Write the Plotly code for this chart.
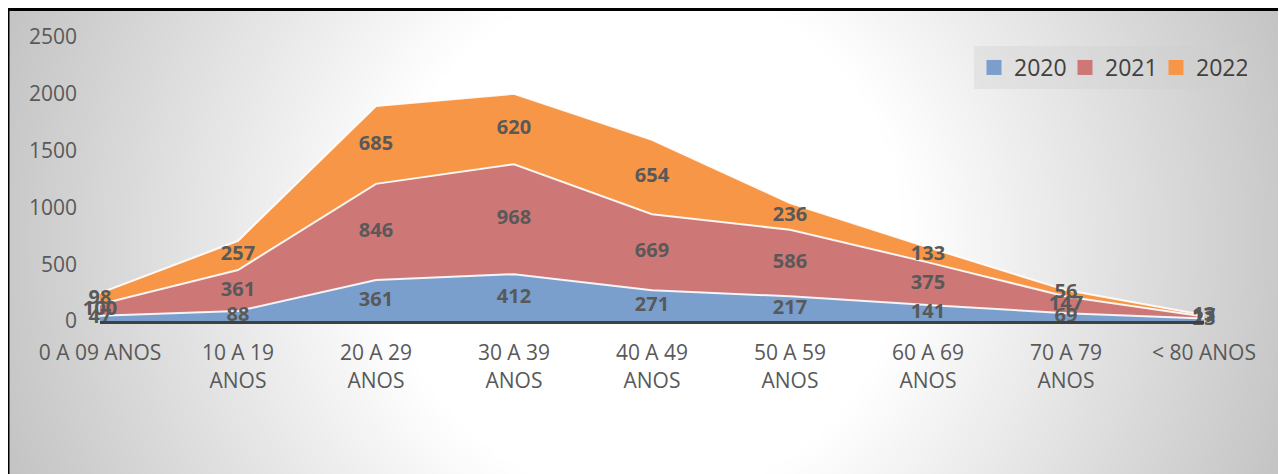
import numpy as np
import plotly.graph_objects as go

categories = ["0 A 09 ANOS", "10 A 19<br>ANOS", "20 A 29<br>ANOS", "30 A 39<br>ANOS",
              "40 A 49<br>ANOS", "50 A 59<br>ANOS", "60 A 69<br>ANOS", "70 A 79<br>ANOS", "< 80 ANOS"]
series_names = ["2020", "2021", "2022"]
v2020 = [47, 88, 361, 412, 271, 217, 141, 69, 23]
v2021 = [100, 361, 846, 968, 669, 586, 375, 147, 17]
v2022 = [98, 257, 685, 620, 654, 236, 133, 56, 13]
y_ticks = [0, 500, 1000, 1500, 2000, 2500]

colors = ["#7A9FCC", "#CD7776", "#F79646"]
OFF = 8                      # page body margin
W, H = 1286 - OFF, 474 - OFF
FONT = "Open Sans"


def px(x):
    return (x - OFF) / W


def py(y):
    return 1 - (y - OFF) / H


fig = go.Figure()

# ---- background radial gradient (style only) ----
gx = np.linspace(0, W, 66)
gy = np.linspace(0, H, 26)
XX, YY = np.meshgrid(gx, gy)
r = np.sqrt((XX - (645 - OFF)) ** 2 + (YY - (240 - OFF)) ** 2)
z = np.clip(255 - (r - 260) / (700 - 260) * (255 - 192), 192, 255)
fig.add_trace(go.Heatmap(x=gx, y=gy, z=z, zmin=192, zmax=255, zsmooth="best",
                         colorscale=[[0, "rgb(192,192,192)"], [1, "rgb(255,255,255)"]],
                         showscale=False, hoverinfo="skip", xaxis="x", yaxis="y"))

# ---- stacked areas ----
vals = [v2020, v2021, v2022]
for name, v, c in zip(series_names, vals, colors):
    fig.add_trace(go.Scatter(x=categories, y=v, name=name, stackgroup="one", mode="lines",
                             fillcolor=c, line=dict(color="rgba(255,255,255,0.9)", width=2),
                             showlegend=False, xaxis="x2", yaxis="y2", hoverinfo="skip"))

# ---- data labels at band midpoints ----
cum = np.zeros(len(categories))
for name, v in zip(series_names, vals):
    v = np.array(v, dtype=float)
    mid = cum + v / 2
    cum = cum + v
    fig.add_trace(go.Scatter(x=categories, y=mid, mode="text", text=[str(int(a)) for a in v],
                             textposition="middle center", cliponaxis=False,
                             textfont=dict(family=FONT, size=20, color="#595959", weight="bold"),
                             showlegend=False, xaxis="x2", yaxis="y2", hoverinfo="skip"))

# ---- legend entries ----
for name, c in zip(series_names, colors):
    fig.add_trace(go.Scatter(x=[None], y=[None], mode="markers", name=name,
                             marker=dict(symbol="square", size=15, color=c),
                             xaxis="x2", yaxis="y2"))

fig.update_layout(
    width=W, height=H,
    margin=dict(l=0, r=0, t=0, b=0, autoexpand=False),
    paper_bgcolor="white", plot_bgcolor="rgba(0,0,0,0)",
    font=dict(family=FONT, color="#595959", size=21),
    xaxis=dict(domain=[0, 1], range=[0, W], visible=False, fixedrange=True, automargin=False),
    yaxis=dict(domain=[0, 1], range=[H, 0], visible=False, fixedrange=True, automargin=False),
    xaxis2=dict(domain=[px(100), px(1204)], anchor="y2", type="category", range=[0, 8],
                showgrid=False, zeroline=False, showline=True, linecolor="#404040", linewidth=3,
                ticks="", ticklabelstandoff=11, automargin=False,
                tickfont=dict(family=FONT, size=21, color="#595959")),
    yaxis2=dict(domain=[py(321), py(37)], anchor="x2", range=[0, 2500],
                tickvals=y_ticks, showgrid=False, zeroline=False, showline=False,
                ticks="", ticklabelstandoff=22, automargin=False,
                tickfont=dict(family=FONT, size=21, color="#595959")),
    legend=dict(orientation="h", x=px(1247), xanchor="right", y=py(46), yanchor="top",
                traceorder="normal", entrywidth=46, entrywidthmode="pixels",
                bgcolor="rgba(205,205,205,0.35)", font=dict(family=FONT, size=23, color="#404040"),
                itemclick=False, itemdoubleclick=False, tracegroupgap=0),
    shapes=[dict(type="rect", xref="paper", yref="paper",
                 x0=0, x1=1.01, y0=-0.01, y1=1 - 1.5 / H,
                 line=dict(color="black", width=3), fillcolor="rgba(0,0,0,0)", layer="above")],
)

fig.write_html("out.html")
